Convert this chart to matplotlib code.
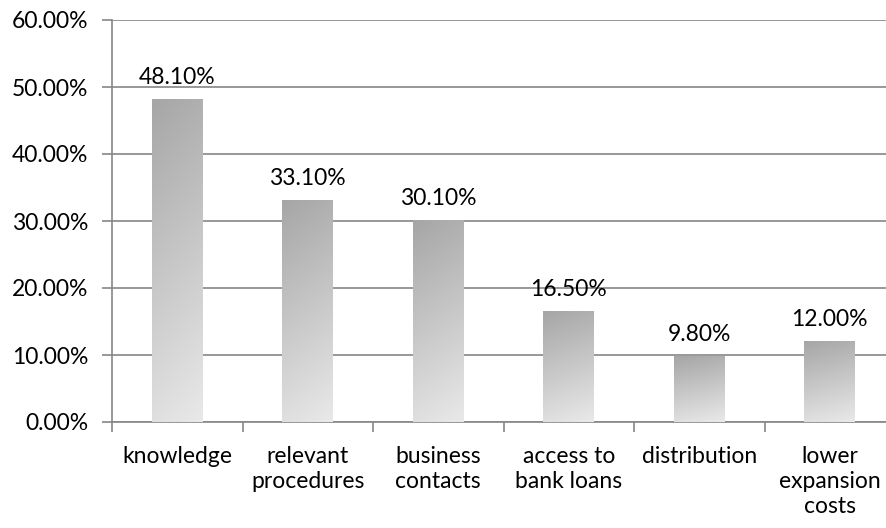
import matplotlib.pyplot as plt
import numpy as np
from matplotlib.colors import LinearSegmentedColormap

categories = ['knowledge', 'relevant\nprocedures', 'business\ncontacts',
              'access to\nbank loans', 'distribution', 'lower\nexpansion\ncosts']
values = [48.1, 33.1, 30.1, 16.5, 9.8, 12.0]
labels = ['48.10%', '33.10%', '30.10%', '16.50%', '9.80%', '12.00%']

plt.rcParams['font.family'] = ['Lato', 'DejaVu Sans']

fig = plt.figure(figsize=(8.87, 5.28), dpi=100)
W, H = 887, 528
ax = fig.add_axes([112 / W, (H - 422) / H, (895 - 112) / W, (422 - 20) / H])

grey = '#868686'
cmap = LinearSegmentedColormap.from_list('bar', ['#e9e9e9', '#a6a6a6'])
fs = 16.5

x = np.arange(len(categories))
bw = 0.39
# gradient: dark top-left, light bottom
gy, gx = np.mgrid[0:1:100j, 0:1:50j]
grad = 0.85 * gy + 0.15 * (1 - gx)

for xi, v, lab in zip(x, values, labels):
    ax.imshow(grad, cmap=cmap, origin='lower', aspect='auto',
              extent=(xi - bw / 2, xi + bw / 2, 0, v), zorder=3,
              interpolation='bilinear', vmin=0, vmax=1)
    ax.text(xi, v + 1.7, lab, ha='center', va='bottom', fontsize=fs, zorder=4)

ax.set_xlim(-0.5, len(categories) - 0.5)
ax.set_ylim(0, 60)
ax.set_yticks(np.arange(0, 61, 10))
ax.set_yticklabels([f'{t:.2f}%' for t in np.arange(0, 61, 10)])
ax.yaxis.grid(True, color=grey, linewidth=1.2, zorder=0)
ax.set_axisbelow(True)

ax.set_xticks(np.arange(len(categories) + 1) - 0.5)
ax.set_xticklabels([])
ax.set_xticks(x, minor=True)
ax.set_xticklabels(categories, minor=True, fontsize=fs, linespacing=1.25)
ax.tick_params(axis='x', which='major', length=7, color=grey, width=1.2)
ax.tick_params(axis='x', which='minor', length=0, pad=17)
ax.tick_params(axis='y', length=7, color=grey, width=1.2, labelsize=fs, pad=10)

for s in ['top', 'right']:
    ax.spines[s].set_visible(False)
for s in ['left', 'bottom']:
    ax.spines[s].set_color(grey)
    ax.spines[s].set_linewidth(1.2)

fig.savefig('out.png', dpi=100)
